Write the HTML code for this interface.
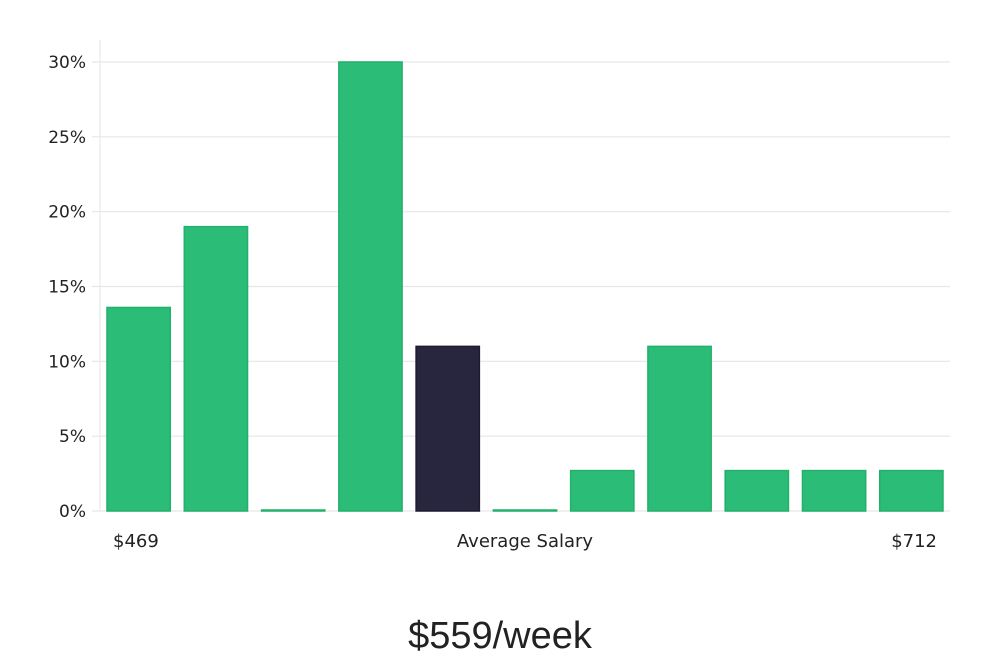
<!DOCTYPE html>
<html><head><meta charset="utf-8">
<style>
html,body{margin:0;padding:0;background:#fff;}
body{width:1000px;height:660px;overflow:hidden;font-family:"DejaVu Sans","Liberation Sans",sans-serif;}
svg{display:block}
</style></head>
<body>
<svg id="chart" width="1000" height="660" xmlns="http://www.w3.org/2000/svg"></svg>
<script>
const categories = ["b1","b2","b3","b4","b5","b6","b7","b8","b9","b10","b11"];
const values = [13.6, 19, 0, 30, 11, 0, 2.7, 11, 2.7, 2.7, 2.7];
const highlight = [false,false,false,false,true,false,false,false,false,false,false];
const yTicks = [0,5,10,15,20,25,30];
const yTickLabels = ["0%","5%","10%","15%","20%","25%","30%"];

const svg = document.getElementById('chart');
const NS = 'http://www.w3.org/2000/svg';
const left = 100, right = 950, y0 = 511, yTop = 62, yMaxVal = 30;
const yScale = v => y0 - (y0 - yTop) * v / yMaxVal;
const slot = (right - left) / categories.length;
const xBand = i => left + i * slot + 7;
const bw = slot - 14;
function mk(tag, attrs){const e=document.createElementNS(NS,tag);for(const k in attrs)e.setAttribute(k,attrs[k]);svg.appendChild(e);return e;}

let ax = mk('line',{x1:left,x2:left,y1:40,y2:y0,stroke:'#e6e6e6','stroke-width':1});


yTicks.forEach((t,i)=>{
  const y = yScale(t);
  const g = mk('line',{x1:left-8,x2:right,y1:y,y2:y,stroke:'#e6e6e6','stroke-width':1.2});
  
  
  const tx = mk('text',{x:left-14,y:y+6,'text-anchor':'end','font-size':17,fill:'#222'});
  tx.textContent = yTickLabels[i];
  
  
});
values.forEach((v,i)=>{
  const y = yScale(v);
  const h = Math.max(y0 - y, 1);
  const r = mk('rect',{x:xBand(i),y:y0-h,width:bw,height:h,
    fill: highlight[i] ? '#28253f' : '#2bbd77',
    stroke: highlight[i] ? '#1e1b33' : '#22b06b','stroke-width':1.5});
  
  
});
function label(x,y,txt,anchor,name,size,extra){
  const t = mk('text',Object.assign({x:x,y:y,'text-anchor':anchor,'font-size':size,fill:'#222'},extra||{}));
  t.textContent = txt;
  
  
}
label(113,547,'$469','start','min-salary-label',18);
label(525,547,'Average Salary','middle','x-axis-title',18);
label(937,547,'$712','end','max-salary-label',18);
label(500,648,'$559/week','middle','average-salary-value',38,{'font-family':'"Liberation Sans",sans-serif','font-weight':'300'});
</script>
</body></html>
